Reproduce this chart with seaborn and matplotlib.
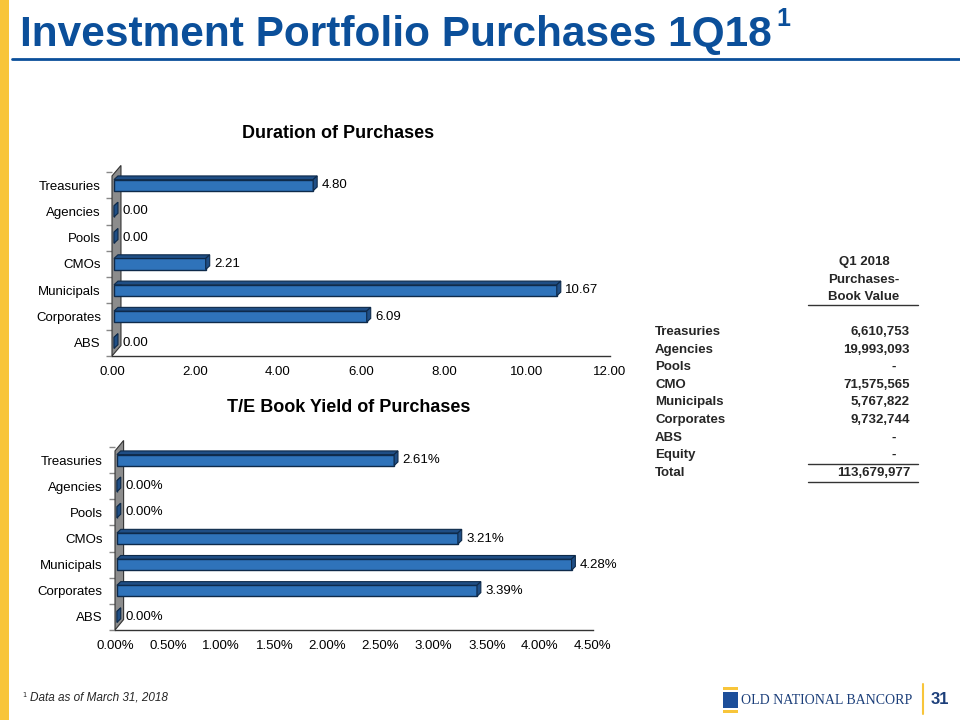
import matplotlib
matplotlib.use("Agg")
import matplotlib.pyplot as plt
import seaborn as sns
import pandas as pd
from matplotlib.patches import Polygon, Rectangle
from matplotlib.ticker import FuncFormatter

sns.set_theme(style="white")
plt.rcParams['font.family'] = ['Liberation Sans', 'DejaVu Sans']

categories = ["Treasuries", "Agencies", "Pools", "CMOs", "Municipals", "Corporates", "ABS"]
duration = [4.80, 0.00, 0.00, 2.21, 10.67, 6.09, 0.00]
yield_pct = [2.61, 0.00, 0.00, 3.21, 4.28, 3.39, 0.00]

table_labels = ["Treasuries", "Agencies", "Pools", "CMO", "Municipals", "Corporates", "ABS", "Equity"]
table_values = ["6,610,753", "19,993,093", "-", "71,575,565", "5,767,822", "9,732,744", "-", "-"]
table_total = "113,679,977"

BLUE = "#0B4F9A"
BAR = "#2F73BA"
EDGE = "#0E2A4A"
DEPTH = "#1F4E85"

fig = plt.figure(figsize=(9.6, 7.2), dpi=100)
W, H = 960, 720

def fx(px):
    return px / W

def fy(py):
    return 1 - py / H

# left yellow strip
fig.patches.append(Rectangle((0, 0), fx(9), 1, transform=fig.transFigure,
                             facecolor="#F8C53A", edgecolor="none"))
# title
fig.text(fx(20), fy(35), "Investment Portfolio Purchases 1Q18", color=BLUE,
         fontsize=30.5, fontweight="bold", va="center", ha="left")
fig.text(fx(776), fy(19), "1", color=BLUE, fontsize=18, fontweight="bold",
         va="center", ha="left")
fig.lines.append(plt.Line2D([fx(12), 1], [fy(59), fy(59)], transform=fig.transFigure,
                            color=BLUE, lw=2))


def draw_chart(rect, values, xmax, step, title, fmt_tick, fmt_lab, title_x, title_y, ypad):
    ax = fig.add_axes(rect)
    df = pd.DataFrame({"cat": categories, "val": values})
    sns.barplot(data=df, x="val", y="cat", orient="h", ax=ax, color=BAR,
                edgecolor=EDGE, linewidth=1.0, width=0.42, saturation=1)
    n = len(categories)
    ax.set_xlim(0, xmax)
    ax.set_ylim(n - 0.5, -0.5)
    ticks = [i * step for i in range(int(round(xmax / step)) + 1)]
    ax.set_xticks(ticks)
    ax.xaxis.set_major_formatter(FuncFormatter(fmt_tick))
    ax.set_yticks(range(n))
    ax.set_yticks([i + 0.5 for i in range(-1, n)], minor=True)
    ax.set_xlabel("")
    ax.set_ylabel("")
    for s in ["top", "right", "left"]:
        ax.spines[s].set_visible(False)
    ax.spines["bottom"].set_color("#333333")
    ax.spines["bottom"].set_linewidth(1.0)
    ax.tick_params(axis="both", labelsize=9.5, colors="black", length=0)
    ax.tick_params(axis="x", length=4, direction="out", color="#888888", pad=3)
    ax.tick_params(axis="y", pad=ypad)
    ax.tick_params(axis="y", which="minor", length=4, color="#888888", left=True)
    # depth offsets in data units
    dx = xmax * 0.008
    dy = 0.14
    wx = xmax * 0.018
    # gray back wall
    wall = Polygon([(0, n - 0.5), (0, -0.5 + 0.15),
                    (wx, -0.5 - 0.25), (wx, n - 0.5 - 0.4)],
                   closed=True, facecolor="#8C8C8C", edgecolor="#333333", lw=0.8,
                   clip_on=False, zorder=1)
    ax.add_patch(wall)
    for p in list(ax.patches):
        if isinstance(p, Rectangle):
            x0, y0 = p.get_x(), p.get_y()
            w, h = p.get_width(), p.get_height()
            x0 = x0 + xmax * 0.004
            p.set_x(x0)
            p.set_zorder(3)
            top = Polygon([(x0, y0), (x0 + dx, y0 - dy),
                           (x0 + w + dx, y0 - dy), (x0 + w, y0)],
                          closed=True, facecolor=DEPTH, edgecolor=EDGE, lw=0.8, zorder=3)
            side = Polygon([(x0 + w, y0), (x0 + w + dx, y0 - dy),
                            (x0 + w + dx, y0 + h - dy), (x0 + w, y0 + h)],
                           closed=True, facecolor=DEPTH, edgecolor=EDGE, lw=0.8, zorder=3)
            ax.add_patch(top)
            ax.add_patch(side)
    for i, v in enumerate(values):
        ax.text(v + xmax * 0.021, i, fmt_lab(v), va="center", ha="left", fontsize=9.5,
                color="black", zorder=5)
    fig.text(title_x, title_y, title, ha="center", va="center",
             fontsize=13, fontweight="bold", color="black")
    return ax


draw_chart([fx(112), fy(356), fx(498), (356 - 172) / H], duration, 12, 2,
           "Duration of Purchases", lambda v, p: f"{v:.2f}", lambda v: f"{v:.2f}",
           fx(338), fy(133), 8)
draw_chart([fx(115), fy(630), fx(478), (630 - 447) / H], yield_pct, 4.5, 0.5,
           "T/E Book Yield of Purchases", lambda v, p: f"{v:.2f}%", lambda v: f"{v:.2f}%",
           fx(349), fy(408), 9)

# table
tfs = 9.5
hx = fx(864)
for txt, y in [("Q1 2018", 262), ("Purchases-", 280), ("Book Value", 297)]:
    fig.text(hx, fy(y), txt, ha="center", va="center", fontsize=tfs, fontweight="bold")
fig.lines.append(plt.Line2D([fx(808), fx(918)], [fy(305), fy(305)],
                            transform=fig.transFigure, color="#333333", lw=1))
row_y0, row_dy = 332, 17.6
for i, (lab, val) in enumerate(zip(table_labels, table_values)):
    y = fy(row_y0 + i * row_dy)
    fig.text(fx(655), y, lab, ha="left", va="center", fontsize=tfs, fontweight="bold")
    xr = fx(910) if val != "-" else fx(896)
    fig.text(xr, y, val, ha="right", va="center", fontsize=tfs, fontweight="bold")
ty = row_y0 + len(table_labels) * row_dy
fig.lines.append(plt.Line2D([fx(808), fx(918)], [fy(ty - 9), fy(ty - 9)],
                            transform=fig.transFigure, color="#333333", lw=1))
fig.text(fx(655), fy(ty), "Total", ha="left", va="center", fontsize=tfs, fontweight="bold")
fig.text(fx(910), fy(ty), table_total, ha="right", va="center", fontsize=tfs, fontweight="bold")
fig.lines.append(plt.Line2D([fx(808), fx(918)], [fy(ty + 9), fy(ty + 9)],
                            transform=fig.transFigure, color="#333333", lw=1))

# footnote
fig.text(fx(22), fy(697), "$^{1}$", fontsize=7, ha="left", va="center")
fig.text(fx(30), fy(698), "Data as of March 31, 2018", fontsize=8.5, style="italic",
         ha="left", va="center")

# logo
fig.patches.append(Rectangle((fx(723), fy(690)), fx(15), 3 / H, transform=fig.transFigure,
                             facecolor="#F8C53A", edgecolor="none"))
fig.patches.append(Rectangle((fx(723), fy(708)), fx(15), 16 / H, transform=fig.transFigure,
                             facecolor="#1C4E9A", edgecolor="none"))
fig.patches.append(Rectangle((fx(723), fy(713)), fx(15), 3 / H, transform=fig.transFigure,
                             facecolor="#F8C53A", edgecolor="none"))
fig.text(fx(741), fy(700), "OLD NATIONAL BANCORP", family="Liberation Serif",
         fontsize=10, color="#1C3F7A", ha="left", va="center")
fig.lines.append(plt.Line2D([fx(923), fx(923)], [fy(684), fy(714)],
                            transform=fig.transFigure, color="#F8C53A", lw=1.5))
fig.text(fx(931), fy(699), "31", fontsize=12, fontweight="bold", color="#1C3F7A",
         ha="left", va="center")

fig.savefig("out.png", dpi=100)
